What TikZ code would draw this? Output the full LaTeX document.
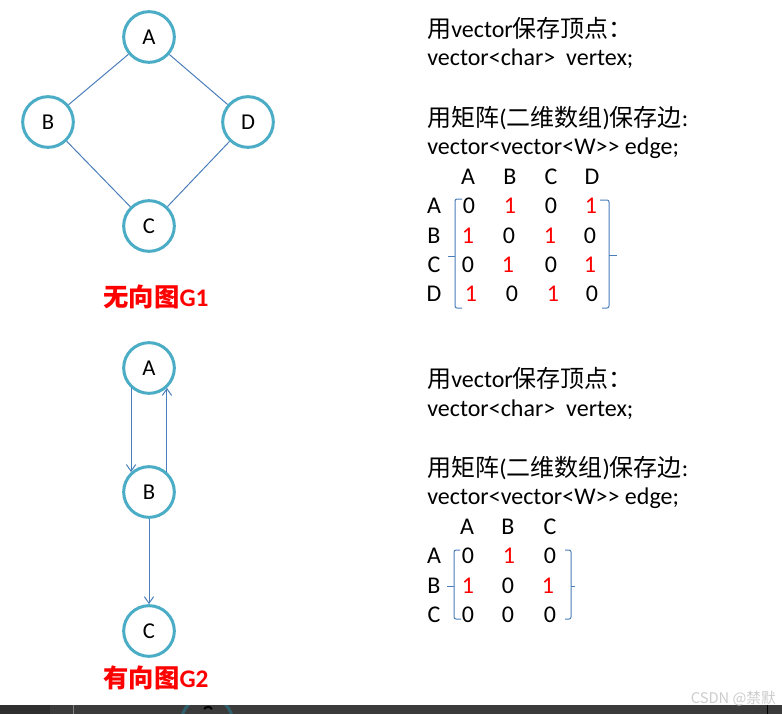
\documentclass[tikz,border=0pt]{standalone}
\usepackage{fontspec}
\setmainfont{Carlito}
\newfontfamily\cjk{Noto Sans CJK SC}
\usetikzlibrary{arrows.meta}
\definecolor{tealc}{HTML}{4BACC6}
\definecolor{edgeblue}{HTML}{4A7EBB}
\definecolor{redc}{HTML}{FF0000}
\definecolor{barc}{HTML}{3B3B3B}
\definecolor{bardark}{HTML}{2F2F2F}
\definecolor{darkteal}{HTML}{2F5F6B}
\definecolor{wmc}{HTML}{CCCCCC}
\begin{document}
\begin{tikzpicture}[x=0.75pt,y=-0.75pt,
  vtx/.style={circle,draw=tealc,line width=2.25pt,minimum size=38pt,inner sep=0pt,fill=white,font=\fontsize{17}{20}\selectfont},
  edg/.style={draw=edgeblue,line width=0.75pt},
  arr/.style={edg,-{Straight Barb[length=5pt,width=7pt]}},
  txt/.style={anchor=base west,inner sep=0pt,font=\fontsize{18}{22}\selectfont},
  cell/.style={anchor=base,inner sep=0pt,font=\fontsize{18}{22}\selectfont},
  one/.style={cell,text=redc},
  brk/.style={draw=edgeblue,line width=0.75pt,rounded corners=1.5pt},
  captxt/.style={anchor=base,inner sep=0pt,text=redc,font=\fontsize{19}{22}\selectfont}]
\useasboundingbox (0,0) rectangle (782,714);

% ---------- undirected graph G1 ----------
\node[vtx] (A1) at (149,37) {A};
\node[vtx] (B1) at (48,122) {B};
\node[vtx] (D1) at (248,122) {D};
\node[vtx] (C1) at (149,226) {C};
\draw[edg] (A1) -- (B1);
\draw[edg] (A1) -- (D1);
\draw[edg] (B1) -- (C1);
\draw[edg] (D1) -- (C1);
\node[captxt] (cap1) at (156,306) {{\cjk\bfseries 无向图}\textbf{G1}};

% ---------- directed graph G2 ----------
\node[vtx] (A2) at (149,368) {A};
\node[vtx] (B2) at (149,492) {B};
\node[vtx] (C2) at (149,631) {C};
\draw[arr] (A2.228) -- (B2.132);
\draw[arr] (B2.48) -- (A2.312);
\draw[arr] (B2) -- (C2);
\node[captxt] (cap2) at (156,687) {{\cjk\bfseries 有向图}\textbf{G2}};

% ---------- text for G1 ----------
\node[txt] (t1) at (427,37) {{\cjk 用}vector{\cjk 保存顶点：}};
\node[txt] (t2) at (427,65) {vector<char>\ \ vertex;};
\node[txt] (t3) at (427,126) {{\cjk 用矩阵}({\cjk 二维数组}){\cjk 保存边}:};
\node[txt] (t4) at (427,154) {vector<vector<W>{}> edge;};
% header
\node[cell] (h1a) at (468,184) {A};
\node[cell] (h1b) at (510,184) {B};
\node[cell] (h1c) at (551,184) {C};
\node[cell] (h1d) at (592,184) {D};
% row labels
\node[cell] (r1a) at (434,213) {A};
\node[cell] (r1b) at (434,243) {B};
\node[cell] (r1c) at (434,272) {C};
\node[cell] (r1d) at (434,301) {D};
% entries
\node[cell] (m11) at (469,213) {0};
\node[one]  (m12) at (510,213) {1};
\node[cell] (m13) at (551,213) {0};
\node[one]  (m14) at (591,213) {1};
\node[one]  (m21) at (468,243) {1};
\node[cell] (m22) at (509,243) {0};
\node[one]  (m23) at (550,243) {1};
\node[cell] (m24) at (590,243) {0};
\node[cell] (m31) at (468,272) {0};
\node[one]  (m32) at (508,272) {1};
\node[cell] (m33) at (551,272) {0};
\node[one]  (m34) at (590,272) {1};
\node[one]  (m41) at (471,301) {1};
\node[cell] (m42) at (512,301) {0};
\node[one]  (m43) at (553,301) {1};
\node[cell] (m44) at (592,301) {0};
% brackets
\draw[brk] (462,199) -- (455,199) -- (455,308) -- (462,308);
\draw[edg] (448,256) -- (455,256);
\draw[brk] (600,200) -- (609,200) -- (609,308) -- (602,308);
\draw[edg] (609,255) -- (617,255);

% ---------- text for G2 ----------
\node[txt] (t5) at (427,387) {{\cjk 用}vector{\cjk 保存顶点：}};
\node[txt] (t6) at (427,416) {vector<char>\ \ vertex;};
\node[txt] (t7) at (427,476) {{\cjk 用矩阵}({\cjk 二维数组}){\cjk 保存边}:};
\node[txt] (t8) at (427,504) {vector<vector<W>{}> edge;};
\node[cell] (h2a) at (467,534) {A};
\node[cell] (h2b) at (508,534) {B};
\node[cell] (h2c) at (550,534) {C};
\node[cell] (r2a) at (434,563) {A};
\node[cell] (r2b) at (434,593) {B};
\node[cell] (r2c) at (434,622) {C};
\node[cell] (n11) at (468,563) {0};
\node[one]  (n12) at (509,563) {1};
\node[cell] (n13) at (550,563) {0};
\node[one]  (n21) at (468,593) {1};
\node[cell] (n22) at (508,593) {0};
\node[one]  (n23) at (548,593) {1};
\node[cell] (n31) at (468,622) {0};
\node[cell] (n32) at (508,622) {0};
\node[cell] (n33) at (550,622) {0};
\draw[brk] (460,550) -- (454,550) -- (454,619) -- (461,619);
\draw[edg] (447,586) -- (454,586);
\draw[brk] (565,550) -- (571,550) -- (571,619) -- (565,619);
\draw[edg] (571,586) -- (575,586);

% ---------- bottom strip and watermark ----------
\fill[barc] (0,705) rectangle (782,714);
\fill[bardark] (0,705) rectangle (50,714);
\begin{scope}
  \clip (0,705) rectangle (782,714);
  \draw[darkteal,line width=2.25pt] (207,722) circle (25.5);
  \draw[black,line width=1.5pt] (212,709) arc (-30:-150:4.5);
\end{scope}
\draw[gray,line width=0.75pt] (73,705) -- (73,714);
\draw[black,line width=0.75pt] (767,705) -- (767,714);
\node[anchor=base east,inner sep=0pt,text=wmc,font=\fontsize{11}{12}\selectfont\cjk] (wm) at (776,703) {CSDN @禁默};
\end{tikzpicture}
\end{document}
